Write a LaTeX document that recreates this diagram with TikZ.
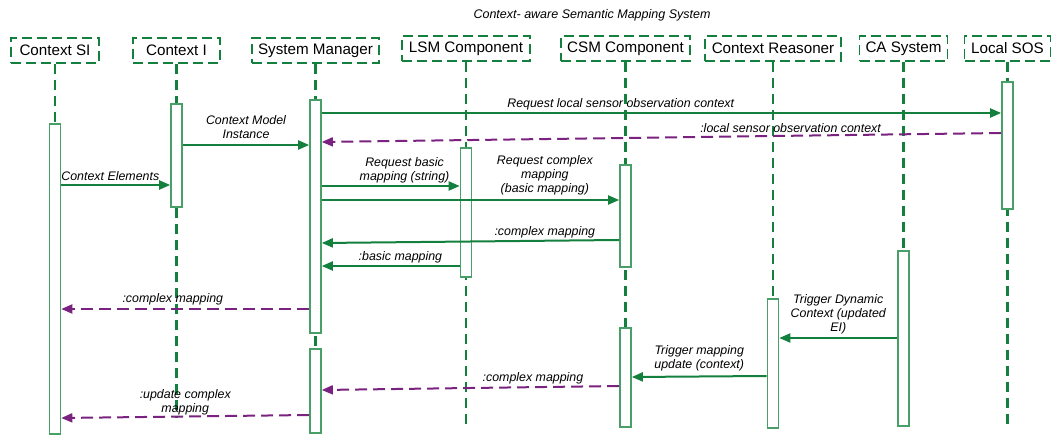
\documentclass[tikz,border=0pt]{standalone}
\usepackage{fontspec}
\setmainfont{Liberation Sans}
\usetikzlibrary{arrows.meta}
\definecolor{seqgreen}{RGB}{20,128,62}
\definecolor{boxgreen}{RGB}{72,160,104}
\definecolor{retpurple}{RGB}{122,34,128}

\begin{document}
\begin{tikzpicture}[x=1pt,y=-1pt,
    head/.style={draw=seqgreen,line width=1.9pt,dash pattern=on 10pt off 5pt,
      font=\fontsize{15.2}{17}\selectfont,inner sep=0pt,minimum height=25pt},
    life/.style={draw=seqgreen,line width=2.2pt,dash pattern=on 10pt off 6pt},
    act/.style={draw=boxgreen,fill=white,line width=1.6pt,minimum width=11pt,
      inner sep=0pt,anchor=north},
    msg/.style={draw=seqgreen,line width=2pt,-{Triangle[length=11pt,width=9pt]}},
    ret/.style={draw=retpurple,line width=2pt,dash pattern=on 12pt off 6pt,
      -{Triangle[length=11pt,width=9pt]}},
    lbl/.style={font=\fontsize{12.4}{14}\selectfont\itshape,align=center,inner sep=1pt}]
  \useasboundingbox (0,0) rectangle (1058,435);
  \node[font=\fontsize{12.5}{14}\selectfont\itshape] (title) at (592,15)
    {Context- aware Semantic Mapping System};
  % ---- participants
  \node[head,minimum width=88pt]  (hSI)  at (55,50.5)   {Context SI};
  \node[head,minimum width=87pt]  (hCI)  at (176.5,50.5) {Context I};
  \node[head,minimum width=127pt] (hSM)  at (315.5,50.5) {System Manager};
  \node[head,minimum width=128pt] (hLSM) at (466,48.5)   {LSM Component};
  \node[head,minimum width=129pt] (hCSM) at (625.5,48.5) {CSM Component};
  \node[head,minimum width=136pt] (hCR)  at (773,48.5)   {Context Reasoner};
  \node[head,minimum width=88pt]  (hCA)  at (903.5,48.5) {CA System};
  \node[head,minimum width=86pt]  (hSOS) at (1007.5,48.5) {Local SOS};
  % ---- lifelines
  \foreach \h/\y in {hSI/123,hCI/418,hSM/432,hLSM/424,hCSM/426,hCR/427,hCA/425,hSOS/424}
    \draw[life] (\h.south) -- (\h.south |- 0,\y);
  % ---- activations
  \node[act,minimum height=310pt] (aSI)   at (hSI.south |- 0,123)  {};
  \node[act,minimum height=103pt] (aCI)   at (hCI.south |- 0,103)  {};
  \node[act,minimum height=233pt] (aSMa)  at (hSM.south |- 0,99)   {};
  \node[act,minimum height=84pt]  (aSMb)  at (hSM.south |- 0,348)  {};
  \node[act,minimum height=129pt] (aLSM)  at (hLSM.south |- 0,147) {};
  \node[act,minimum height=102pt] (aCSMa) at (hCSM.south |- 0,164) {};
  \node[act,minimum height=99pt]  (aCSMb) at (hCSM.south |- 0,327) {};
  \node[act,minimum height=129pt] (aCR)   at (hCR.south |- 0,298)  {};
  \node[act,minimum height=175pt] (aCA)   at (hCA.south |- 0,250)  {};
  \node[act,minimum height=127pt] (aSOS)  at (hSOS.south |- 0,81)  {};
  % ---- messages
  \draw[msg] (aCI.east |- 0,145) -- (aSMa.west |- 0,145)
    node[lbl,midway,above=4pt] {Context Model\\Instance};
  \draw[msg] (aSMa.east |- 0,113) -- (aSOS.west |- 0,113)
    node[lbl,pos=0.44,above=1pt] {Request local sensor observation context};
  \draw[ret] (aSOS.west |- 0,133) -- (aSMa.east |- 0,142)
    node[lbl,pos=0.31,above=1pt] {:local sensor observation context};
  \draw[msg] (aSI.east |- 0,185) -- (aCI.west |- 0,185)
    node[lbl,pos=0.45,above=2pt] {Context Elements};
  \draw[msg] (aSMa.east |- 0,186) -- (aLSM.west |- 0,186)
    node[lbl,pos=0.6,above=1pt] {Request basic\\mapping (string)};
  \draw[msg] (aSMa.east |- 0,200) -- (aCSMa.west |- 0,200)
    node[lbl,pos=0.75,above=3pt] {Request complex\\mapping\\(basic mapping)};
  \draw[msg] (aCSMa.west |- 0,240) -- (aSMa.east |- 0,243)
    node[lbl,pos=0.25,above=1pt] {:complex mapping};
  \draw[msg] (aLSM.west |- 0,266) -- (aSMa.east |- 0,266)
    node[lbl,pos=0.43,above=1pt] {:basic mapping};
  \draw[ret] (aSMa.west |- 0,309) -- (aSI.east |- 0,309)
    node[lbl,pos=0.55,above=2pt] {:complex mapping};
  \draw[msg] (aCA.west |- 0,338) -- (aCR.east |- 0,338)
    node[lbl,midway,above=2pt] {Trigger Dynamic\\Context (updated\\EI)};
  \draw[msg] (aCR.west |- 0,376) -- (aCSMb.east |- 0,377)
    node[lbl,midway,above=3pt] {Trigger mapping\\update (context)};
  \draw[ret] (aCSMb.west |- 0,386) -- (aSMb.east |- 0,390)
    node[lbl,pos=0.29,above=1pt] {:complex mapping};
  \draw[ret] (aSMb.west |- 0,415) -- (aSI.east |- 0,418)
    node[lbl,pos=0.5,above=-1pt] {:update complex\\mapping};
\end{tikzpicture}
\end{document}
